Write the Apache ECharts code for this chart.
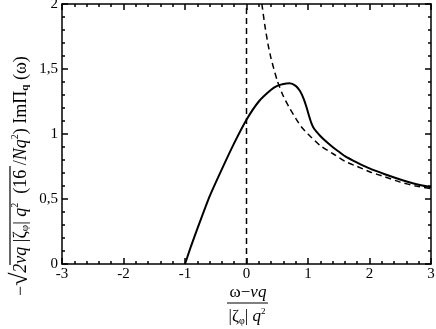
<!DOCTYPE html>
<html>
<head>
<meta charset="utf-8">
<script src="https://cdn.jsdelivr.net/npm/echarts@6/dist/echarts.min.js"></script>
<style>
  html, body { margin: 0; padding: 0; background: #fff; }
  #main { width: 436px; height: 329px; }
</style>
</head>
<body>
<div id="main"></div>
<script>
// values
const solidX = [-1, -0.9, -0.8, -0.6, -0.4, -0.2, 0, 0.2, 0.4, 0.5, 0.6, 0.7, 0.8, 0.87, 0.93, 0.98, 1.01, 1.05, 1.1, 1.2, 1.3, 1.4, 1.5, 1.6, 1.8, 2.0, 2.25, 2.5, 2.75, 3.0];
const solidY = [0, 0.14, 0.27, 0.52, 0.73, 0.93, 1.11, 1.25, 1.34, 1.37, 1.385, 1.39, 1.37, 1.33, 1.27, 1.2, 1.15, 1.09, 1.04, 0.985, 0.94, 0.9, 0.865, 0.83, 0.78, 0.735, 0.69, 0.65, 0.615, 0.59];

const dashX = [0.25, 0.3, 0.35, 0.4, 0.5, 0.6, 0.7, 0.8, 0.9, 1.0, 1.2, 1.4, 1.6, 1.8, 2.0, 2.25, 2.5, 2.75, 3.0];
const dashY = [2.0, 1.83, 1.69, 1.58, 1.41, 1.29, 1.2, 1.12, 1.05, 1.0, 0.91, 0.85, 0.79, 0.75, 0.71, 0.67, 0.63, 0.6, 0.58];

const vlineX = [0, 0];
const vlineY = [0, 2];

const xTicks = [-3, -2, -1, 0, 1, 2, 3];
const yTicks = [0, 0.5, 1, 1.5, 2];

const font = 'Liberation Serif';
const chart = echarts.init(document.getElementById('main'));

function axisCommon(show) {
  return {
    axisLine: { show: true, onZero: false, lineStyle: { color: '#000', width: 1.5 } },
    axisTick: { show: true, inside: true, length: 6, lineStyle: { color: '#000', width: 1.5 } },
    minorTick: { show: true, splitNumber: 5, length: 3, lineStyle: { color: '#000', width: 1.5 } },
    splitLine: { show: false },
    axisLabel: { show: show, color: '#000', fontFamily: font, fontSize: 15 }
  };
}

const rich = {
  a: { fontFamily: font, fontSize: 18, fill: '#000' },
  r: { fontFamily: font, fontSize: 24, fill: '#000' },
  i: { fontFamily: font, fontSize: 18, fontStyle: 'italic', fill: '#000' },
  s: { fontFamily: font, fontSize: 11, fill: '#000', padding: [9, 0, 0, 0] },
  b: { fontFamily: font, fontSize: 11, fontWeight: 'bold', fill: '#000', padding: [9, 0, 0, 0] },
  p: { fontFamily: font, fontSize: 10, fill: '#000', padding: [0, 0, 11, 0] }
};

const option = {
  backgroundColor: '#fff',
  animation: false,
  grid: { left: 62, right: 5, top: 4, bottom: 65, outerBoundsMode: 'none', containLabel: false },
  xAxis: [
    Object.assign({ type: 'value', min: -3, max: 3, interval: 1, position: 'bottom' }, axisCommon(true), {
      axisLabel: { color: '#000', fontFamily: font, fontSize: 15, margin: 3,
        formatter: v => xTicks.includes(v) ? String(v) : '' }
    }),
    Object.assign({ type: 'value', min: -3, max: 3, interval: 1, position: 'top' }, axisCommon(false))
  ],
  yAxis: [
    Object.assign({ type: 'value', min: 0, max: 2, interval: 0.5, position: 'left' }, axisCommon(true), {
      axisLabel: { color: '#000', fontFamily: font, fontSize: 15, margin: 4,
        formatter: v => yTicks.includes(v) ? String(v).replace('.', ',') : '' }
    }),
    Object.assign({ type: 'value', min: 0, max: 2, interval: 0.5, position: 'right' }, axisCommon(false))
  ],
  series: [
    {
      type: 'line', showSymbol: false, smooth: 0.2,
      data: solidX.map((x, i) => [x, solidY[i]]),
      lineStyle: { color: '#000', width: 2 }
    },
    {
      type: 'line', showSymbol: false, smooth: 0.2,
      data: dashX.map((x, i) => [x, dashY[i]]),
      lineStyle: { color: '#000', width: 1.5, type: [6, 4] }
    },
    {
      type: 'line', showSymbol: false,
      data: vlineX.map((x, i) => [x, vlineY[i]]),
      lineStyle: { color: '#000', width: 1.5, type: [6, 4] }
    }
  ],
  graphic: [
    // x axis title: fraction
    {
      type: 'text', x: 248, y: 293,
      style: {
        text: '{a|ω−}{i|vq}',
        align: 'center', verticalAlign: 'middle',
        rich: {
          a: { fontFamily: font, fontSize: 17, fill: '#000' },
          i: { fontFamily: font, fontSize: 17, fontStyle: 'italic', fill: '#000' }
        }
      }
    },
    {
      type: 'line', shape: { x1: 227, y1: 303, x2: 268, y2: 303 },
      style: { stroke: '#000', lineWidth: 1.2 }
    },
    {
      type: 'text', x: 247, y: 317,
      style: {
        text: '{a||ζ}{s|φ}{a||}{i| q}{p|2}',
        align: 'center', verticalAlign: 'middle',
        rich: {
          a: { fontFamily: font, fontSize: 17, fill: '#000' },
          s: { fontFamily: font, fontSize: 10, fill: '#000', padding: [8, 0, 0, 0] },
          i: { fontFamily: font, fontSize: 17, fontStyle: 'italic', fill: '#000' },
          p: { fontFamily: font, fontSize: 9, fill: '#000', padding: [0, 0, 10, 0] }
        }
      }
    },
    // y axis title, rotated (local x runs up the page)
    {
      type: 'group', x: 21, y: 175, rotation: Math.PI / 2,
      children: [
        {
          type: 'text', x: -121, y: 0,
          style: {
            text: '{a|−}{r|√}{i|2vq}{a| |ζ}{s|φ}{a||}{i| q}{p|2}{a|  (16 /}{i|Nq}{p|2}{a|) ImΠ}{b|q}{a| (ω)}',
            align: 'left', verticalAlign: 'middle',
            rich: rich
          }
        },
        {
          type: 'line', shape: { x1: -90, y1: -11, x2: 9, y2: -11 },
          style: { stroke: '#000', lineWidth: 1.2 }
        }
      ]
    }
  ]
};

chart.setOption(option);
</script>
</body>
</html>
